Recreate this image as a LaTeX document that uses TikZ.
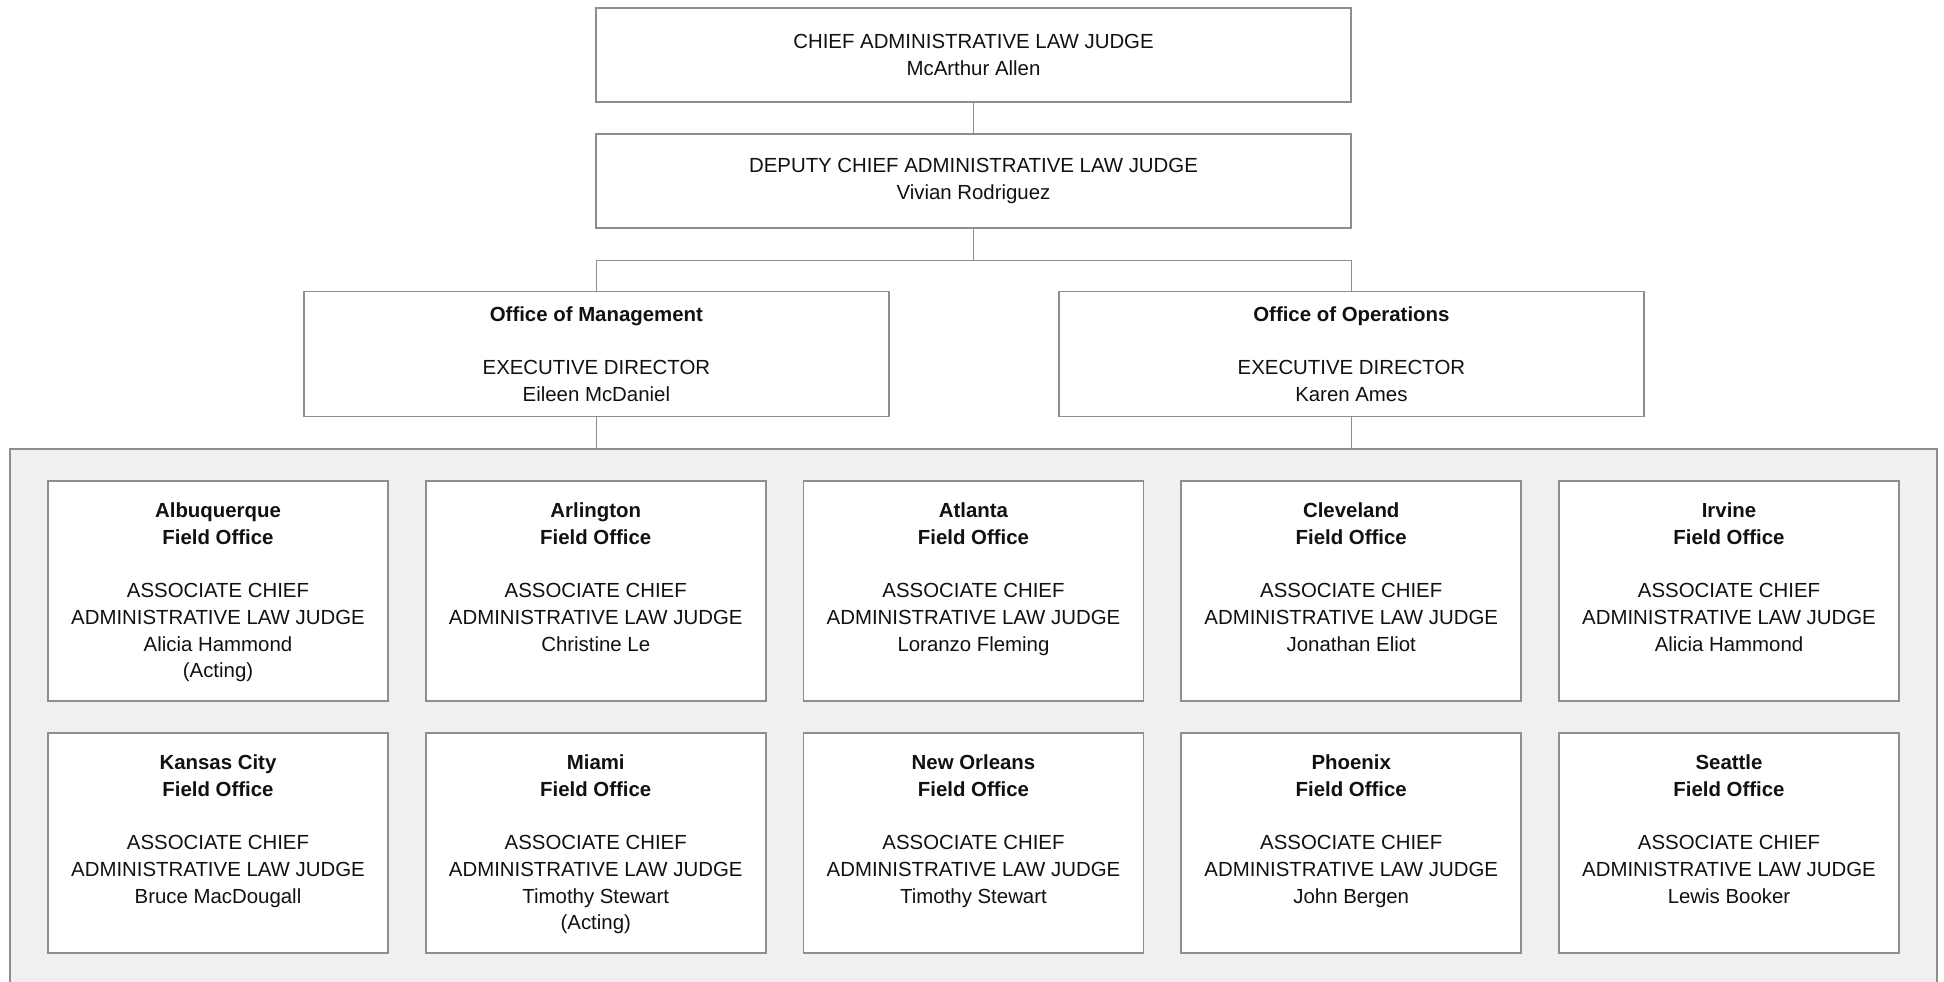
\documentclass[tikz,border=0pt]{standalone}
\usepackage{fontspec}
\setmainfont{Liberation Sans}
\definecolor{linegray}{HTML}{8E8E8E}
\definecolor{panelfill}{HTML}{F0F0F0}
\definecolor{inkcolor}{HTML}{111111}

% one field office card: name, x, y, city, person line(s)
\newcommand{\fieldunit}[5]{%
  \node[fieldbox] (#1) at (#2,#3) {};
  \node[fieldtext] (#1-t) at ([yshift=-11.2pt]#1.north)
    {\textbf{#4}\\\textbf{Field Office}\\[13.35pt]ASSOCIATE CHIEF\\ADMINISTRATIVE LAW JUDGE\\#5};
}

\begin{document}
\begin{tikzpicture}[x=0.5pt,y=-0.5pt,
  conn/.style={draw=linegray, line width=0.85pt},
  card/.style={draw=linegray, line width=0.85pt, fill=white, inner sep=0pt,
    align=center, text=inkcolor, font=\fontsize{10.2}{13.35}\selectfont},
  headbox/.style={card, minimum width=377.5pt, minimum height=47pt},
  officebox/.style={card, minimum width=292.6pt, minimum height=62.6pt},
  fieldbox/.style={card, minimum width=170pt, minimum height=110pt},
  fieldtext/.style={anchor=north, inner sep=0pt, align=center, text=inkcolor,
    font=\fontsize{10.2}{13.35}\selectfont},
  panel/.style={draw=linegray, line width=0.85pt, fill=panelfill,
    minimum width=963.5pt, minimum height=280pt, inner sep=0pt}
]
\clip (0,0) rectangle (1944,981);
\fill[white] (0,0) rectangle (1944,981);

% leadership
\node[headbox] (chief) at (973.5,55.2)
  {CHIEF ADMINISTRATIVE LAW JUDGE\\McArthur Allen};
\node[headbox] (deputy) at (973.5,181)
  {DEPUTY CHIEF ADMINISTRATIVE LAW JUDGE\\Vivian Rodriguez};

% offices
\node[officebox] (mgmt) at (596.4,354)
  {\textbf{Office of Management}\\[13.35pt]EXECUTIVE DIRECTOR\\Eileen McDaniel};
\node[officebox] (ops) at (1351.4,354)
  {\textbf{Office of Operations}\\[13.35pt]EXECUTIVE DIRECTOR\\Karen Ames};

% field office panel
\node[panel] (panel) at (973.5,729) {};

% connectors
\coordinate (bus) at (973.5,260.4);
\draw[conn] (chief.south) -- (deputy.north);
\draw[conn] (deputy.south) -- (bus);
\draw[conn] (mgmt.north) |- (bus) -| (ops.north);
\draw[conn] (mgmt.south) -- (mgmt.south |- panel.north);
\draw[conn] (ops.south) -- (ops.south |- panel.north);

% field offices, first row
\fieldunit{alb}{218}{591}{Albuquerque}{Alicia Hammond\\(Acting)}
\fieldunit{arl}{595.75}{591}{Arlington}{Christine Le}
\fieldunit{atl}{973.5}{591}{Atlanta}{Loranzo Fleming}
\fieldunit{cle}{1351.25}{591}{Cleveland}{Jonathan Eliot}
\fieldunit{irv}{1729}{591}{Irvine}{Alicia Hammond}

% field offices, second row
\fieldunit{kc}{218}{843}{Kansas City}{Bruce MacDougall}
\fieldunit{mia}{595.75}{843}{Miami}{Timothy Stewart\\(Acting)}
\fieldunit{nol}{973.5}{843}{New Orleans}{Timothy Stewart}
\fieldunit{phx}{1351.25}{843}{Phoenix}{John Bergen}
\fieldunit{sea}{1729}{843}{Seattle}{Lewis Booker}
\end{tikzpicture}
\end{document}
